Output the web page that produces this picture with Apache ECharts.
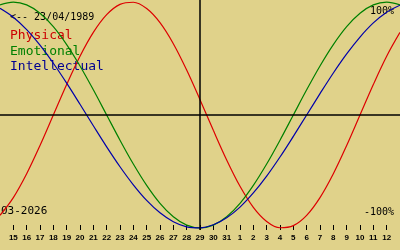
<!DOCTYPE html>
<html>
<head>
<meta charset="utf-8">
<script src="https://cdn.jsdelivr.net/npm/echarts@6/dist/echarts.min.js"></script>
<style>
html,body{margin:0;padding:0;background:#e0d28a;}
#c{width:400px;height:250px;}
</style>
</head>
<body>
<div id="c"></div>
<script>
// Day labels (14 March .. 13 April 2026); first and last are off-axis edge points
var days = ['14','15','16','17','18','19','20','21','22','23','24','25','26','27','28','29','30','31',
            '1','2','3','4','5','6','7','8','9','10','11','12','13'];
// Values in percent
var physical = [-88.8,-73.1,-52.0,-27.0,0,27.0,52.0,73.1,88.8,97.9,99.8,94.2,81.7,63.1,39.8,13.6,
                -13.6,-39.8,-63.1,-81.7,-94.2,-99.8,-97.9,-88.8,-73.1,-52.0,-27.0,0,27.0,52.0,73.1];
var emotional = [97.5,100,97.5,90.1,78.2,62.3,43.4,22.3,0,-22.3,-43.4,-62.3,-78.2,-90.1,-97.5,-100,
                 -97.5,-90.1,-78.2,-62.3,-43.4,-22.3,0,22.3,43.4,62.3,78.2,90.1,97.5,100,97.5];
var intellectual = [94.5,86.6,75.6,61.8,45.8,28.2,9.5,-9.5,-28.2,-45.8,-61.8,-75.6,-86.6,-94.5,-99.0,-99.9,
                    -97.2,-91.0,-81.5,-69.0,-54.1,-37.2,-18.9,0,18.9,37.2,54.1,69.0,81.5,91.0,97.2];
var centerDay = '29';
var birthText = '<-- 23/04/1989';
var monthText = '03-2026';
var legendNames = ['Physical','Emotional','Intellectual'];
var topLabel = '100%';
var bottomLabel = '-100%';

var colors = ['#dd0000','#008000','#0000aa'];
var textColors = ['#cc0000','#008000','#000090'];
var chart = echarts.init(document.getElementById('c'), null, {renderer:'canvas'});
var lastIdx = days.length - 1;
function inner(idx){ return idx > 0 && idx < lastIdx; }

function lineSeries(name, data, color, withMark){
  var s = {
    name: name, type: 'line', data: data, smooth: 0.35, symbol: 'none',
    lineStyle: {color: color, width: 1.2}, silent: true, animation: false, z: 3
  };
  if (withMark) {
    s.markLine = {
      silent: true, symbol: 'none', animation: false,
      label: {show: false},
      lineStyle: {color: '#000', width: 1.5, type: 'solid'},
      data: [{yAxis: 0}, {xAxis: centerDay}]
    };
  }
  return s;
}

chart.setOption({
  backgroundColor: '#e0d28a',
  animation: false,
  grid: {left: 0, right: 0, top: 0, height: 230, containLabel: false},
  xAxis: {
    type: 'category', data: days, boundaryGap: false,
    axisLine: {show: false, onZero: false},
    axisTick: {show: true, inside: true, length: 5, interval: inner, lineStyle: {color: '#000', width: 1}},
    axisLabel: {show: true, interval: inner, margin: 4, color: '#000', fontSize: 8, fontWeight: 'bold',
                fontFamily: '"Liberation Sans"'},
    splitLine: {show: false}
  },
  yAxis: {
    type: 'value', min: -101.8, max: 101.8, show: false, splitLine: {show: false}
  },
  series: [
    lineSeries(legendNames[0], physical, colors[0], true),
    lineSeries(legendNames[1], emotional, colors[1], false),
    lineSeries(legendNames[2], intellectual, colors[2], false)
  ],
  graphic: [
    {type:'text', x:10, y:12, style:{text: birthText, font:'10px "DejaVu Sans Mono"', fill:'#000', verticalAlign:'top'}},
    {type:'text', x:10, y:29, style:{text: legendNames[0], font:'13px "DejaVu Sans Mono"', fill:textColors[0], verticalAlign:'top'}},
    {type:'text', x:10, y:45, style:{text: legendNames[1], font:'13px "DejaVu Sans Mono"', fill:textColors[1], verticalAlign:'top'}},
    {type:'text', x:10, y:60.5, style:{text: legendNames[2], font:'13px "DejaVu Sans Mono"', fill:textColors[2], verticalAlign:'top'}},
    {type:'text', right:6, y:6, style:{text: topLabel, font:'10px "DejaVu Sans Mono"', fill:'#000', verticalAlign:'top'}},
    {type:'text', right:6, y:207, style:{text: bottomLabel, font:'10px "DejaVu Sans Mono"', fill:'#000', verticalAlign:'top'}},
    {type:'text', x:1, y:206, style:{text: monthText, font:'11px "DejaVu Sans Mono"', fill:'#000', verticalAlign:'top'}}
  ]
});
</script>
</body>
</html>
